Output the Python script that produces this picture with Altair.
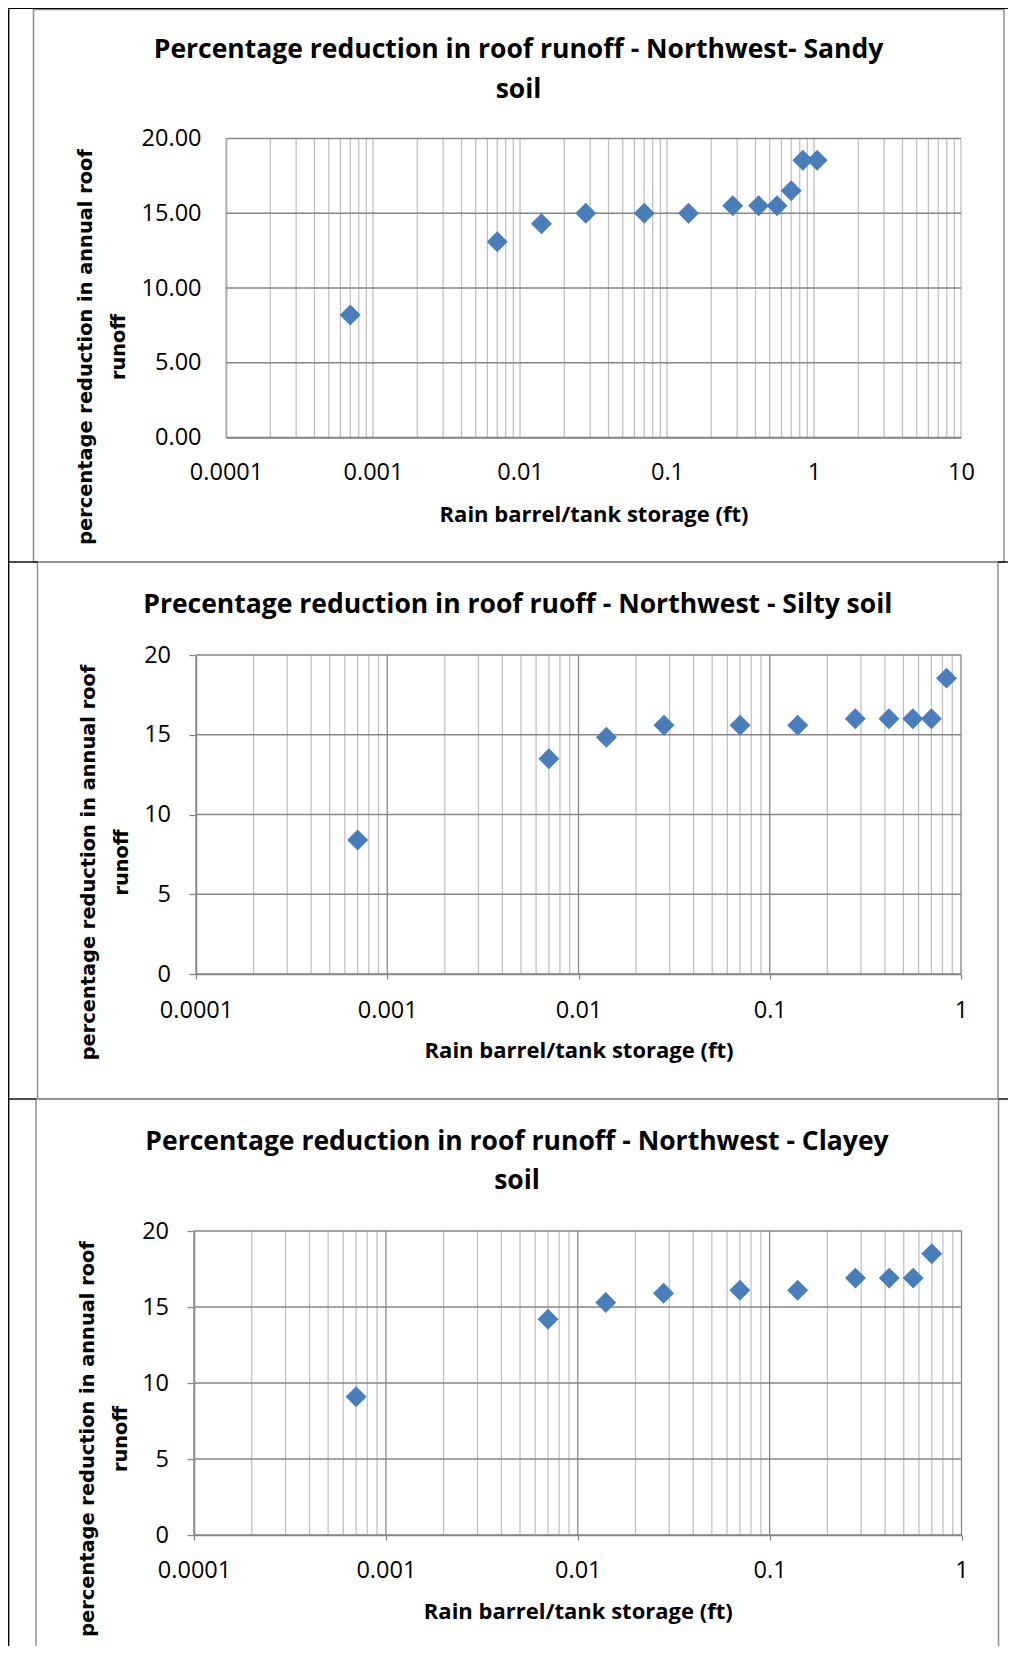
import altair as alt
import pandas as pd

# ---------------- data ----------------
sandy_storage_ft = [0.0007, 0.007, 0.014, 0.028, 0.07, 0.14, 0.28, 0.42, 0.56, 0.7, 0.84, 1.05]
sandy_reduction = [8.2, 13.1, 14.3, 15.0, 15.0, 15.0, 15.5, 15.5, 15.5, 16.5, 18.55, 18.55]

silty_storage_ft = [0.0007, 0.007, 0.014, 0.028, 0.07, 0.14, 0.28, 0.42, 0.56, 0.7, 0.84]
silty_reduction = [8.4, 13.5, 14.85, 15.6, 15.6, 15.6, 16.0, 16.0, 16.0, 16.0, 18.55]

clayey_storage_ft = [0.0007, 0.007, 0.014, 0.028, 0.07, 0.14, 0.28, 0.42, 0.56, 0.7]
clayey_reduction = [9.1, 14.2, 15.3, 15.9, 16.1, 16.1, 16.9, 16.9, 16.9, 18.5]

sandy_title = ["Percentage reduction in roof runoff - Northwest- Sandy", "soil"]
silty_title = ["Precentage reduction in roof ruoff - Northwest - Silty soil"]
clayey_title = ["Percentage reduction in roof runoff - Northwest - Clayey", "soil"]

x_title = "Rain barrel/tank storage (ft)"
y_title = ["percentage reduction in annual roof", "runoff"]

x_ticks_to_10 = [0.0001, 0.001, 0.01, 0.1, 1, 10]
x_labels_to_10 = ["0.0001", "0.001", "0.01", "0.1", "1", "10"]
x_ticks_to_1 = [0.0001, 0.001, 0.01, 0.1, 1]
x_labels_to_1 = ["0.0001", "0.001", "0.01", "0.1", "1"]
minor_multipliers = [2, 3, 4, 5, 6, 7, 8, 9]

y_ticks = [0, 5, 10, 15, 20]
y_labels_2dp = ["0.00", "5.00", "10.00", "15.00", "20.00"]
y_labels_int = ["0", "5", "10", "15", "20"]

# ---------------- styling / layout ----------------
W, H = 1000, 1638
BLUE = "#4A7EBB"
DARK = "#868686"
LIGHT = "#BDBDBD"
BORDER = "#8E8E8E"
LABEL_FONT = "Open Sans"
TITLE_FONT = "Open Sans"
YTITLE_FONT = "DejaVu Sans"

layouts = [
    dict(x_range=[218, 953], y_range=[429.5, 130.5], title_x=510.5, title_y=[50.0, 89.5],
         ticks=False, xlab=41.5, xtit=84, ylab=25, ytit_x=-135, ytit_y=338.5, dark_decades=False),
    dict(x_range=[188, 953], y_range=[966, 647], title_x=509.8, title_y=[604.5],
         ticks=True, xlab=43.3, xtit=83.3, ylab=25.5, ytit_x=-102, ytit_y=854, dark_decades=True),
    dict(x_range=[186, 953.5], y_range=[1527, 1223], title_x=509, title_y=[1142, 1180.5],
         ticks=True, xlab=42, xtit=83.2, ylab=25.5, ytit_x=-101, ytit_y=1430.5, dark_decades=True),
]


def js_list(items):
    return "[" + ",".join("'" + s + "'" for s in items) + "]"


def panel(storage, reduction, ticks, xlabels, ylabels, title_lines, L):
    """Returns a list of layers; every layer owns an independent copy of the same scales."""
    def xs():
        return alt.Scale(type="log", domain=[ticks[0], ticks[-1]], range=L["x_range"], nice=False)

    def ys():
        return alt.Scale(type="linear", domain=[y_ticks[0], y_ticks[-1]], range=L["y_range"],
                         nice=False, zero=False)

    xtick = 5 if L["ticks"] else 0
    ytick = 7 if L["ticks"] else 0
    bottom_px = L["y_range"][0]
    left_px = L["x_range"][0]

    xaxis = alt.Axis(
        orient="bottom", offset=bottom_px - H, values=ticks, grid=False,
        labelExpr=js_list(xlabels) + "[round(log(datum.value)/LN10) + 4]",
        labelFlush=False, labelOverlap=False, labelFont=LABEL_FONT, labelFontSize=23.5,
        labelColor="#000000", labelBaseline="alphabetic", labelPadding=L["xlab"] - xtick,
        ticks=L["ticks"], tickSize=xtick, tickColor=DARK, tickWidth=1.3,
        domainColor=DARK, domainWidth=1.4,
        title=x_title, titleFont=TITLE_FONT, titleFontSize=22, titleFontWeight="bold",
        titleColor="#000000", titleBaseline="alphabetic", titleY=L["xtit"],
    )
    yaxis = alt.Axis(
        orient="left", offset=-left_px, values=y_ticks, grid=False,
        labelExpr=js_list(ylabels) + "[round(datum.value/5)]",
        labelFont=LABEL_FONT, labelFontSize=23.5, labelColor="#000000",
        labelPadding=L["ylab"] - ytick, labelOverlap=False,
        ticks=L["ticks"], tickSize=ytick, tickColor=DARK, tickWidth=1.3,
        domainColor=DARK, domainWidth=1.4,
        title=y_title, titleFont=YTITLE_FONT, titleFontSize=19.4, titleFontWeight="bold",
        titleColor="#000000", titleAngle=270, titleAlign="center", titleBaseline="alphabetic",
        titleLineHeight=33, titleX=L["ytit_x"], titleY=L["ytit_y"],
    )

    minor_vals = [t * m for t in ticks[:-1] for m in minor_multipliers]
    grid_minor = alt.Chart(pd.DataFrame({"v": minor_vals})).mark_rule(
        color=LIGHT, strokeWidth=1.2
    ).encode(
        x=alt.X("v:Q", scale=xs(), axis=None),
        y=alt.Y(datum=y_ticks[0], scale=ys(), axis=None),
        y2=alt.datum(y_ticks[-1]),
    )
    grid_major = alt.Chart(pd.DataFrame({"v": ticks})).mark_rule(
        color=DARK if L["dark_decades"] else LIGHT, strokeWidth=1.3
    ).encode(
        x=alt.X("v:Q", scale=xs(), axis=None),
        y=alt.Y(datum=y_ticks[0], scale=ys(), axis=None),
        y2=alt.datum(y_ticks[-1]),
    )
    grid_h = alt.Chart(pd.DataFrame({"v": y_ticks})).mark_rule(
        color=DARK, strokeWidth=1.4
    ).encode(
        y=alt.Y("v:Q", scale=ys(), axis=None),
        x=alt.X(datum=ticks[0], scale=xs(), axis=None),
        x2=alt.datum(ticks[-1]),
    )
    pts = alt.Chart(pd.DataFrame({"s": storage, "r": reduction})).mark_point(
        shape="diamond", filled=True, size=440, color=BLUE, opacity=1, strokeWidth=0
    ).encode(
        x=alt.X("s:Q", scale=xs(), axis=xaxis),
        y=alt.Y("r:Q", scale=ys(), axis=yaxis),
    )
    titles = []
    for line, by in zip(title_lines, L["title_y"]):
        titles.append(
            alt.Chart(pd.DataFrame({"t": [line]})).mark_text(
                font=TITLE_FONT, fontSize=26.5, fontWeight="bold", color="#000000",
                align="center", baseline="alphabetic"
            ).encode(x=alt.value(L["title_x"]), y=alt.value(by), text="t:N")
        )
    return [grid_minor, grid_major, grid_h, pts] + titles


def line(x1, y1, x2, y2, color, width):
    return alt.Chart(pd.DataFrame({"a": [0]})).mark_rule(color=color, strokeWidth=width).encode(
        x=alt.value(x1), x2=alt.value(x2), y=alt.value(y1), y2=alt.value(y2)
    )


def box(x1, y1, x2, y2):
    return alt.Chart(pd.DataFrame({"a": [0]})).mark_rect(
        fillOpacity=0, stroke=BORDER, strokeWidth=1.5
    ).encode(x=alt.value(x1), x2=alt.value(x2), y=alt.value(y1), y2=alt.value(y2))


frames = [
    box(25.5, 1.6, 996, 554),
    box(29.5, 554, 990, 1091),
    box(28, 1091, 990.5, H + 2),
    line(0.7, 0, 0.7, H, "#000000", 1.4),
    line(0, 0.5, W, 0.5, "#000000", 1.2),
    line(0, 554, 29.5, 554, "#000000", 1.4),
    line(990, 554, W, 554, "#000000", 1.4),
    line(0, 1091, 28, 1091, "#000000", 1.4),
    line(990.5, 1091, W, 1091, "#000000", 1.4),
]

p1 = panel(sandy_storage_ft, sandy_reduction, x_ticks_to_10, x_labels_to_10, y_labels_2dp,
           sandy_title, layouts[0])
p2 = panel(silty_storage_ft, silty_reduction, x_ticks_to_1, x_labels_to_1, y_labels_int,
           silty_title, layouts[1])
p3 = panel(clayey_storage_ft, clayey_reduction, x_ticks_to_1, x_labels_to_1, y_labels_int,
           clayey_title, layouts[2])

chart = alt.layer(*frames, *p1, *p2, *p3).resolve_scale(
    x="independent", y="independent"
).resolve_axis(
    x="independent", y="independent"
).properties(
    width=W, height=H, padding=0, autosize=alt.AutoSizeParams(type="none")
).configure_view(stroke=None)

chart.save("out.html", embed_options={"renderer": "svg", "actions": False})
